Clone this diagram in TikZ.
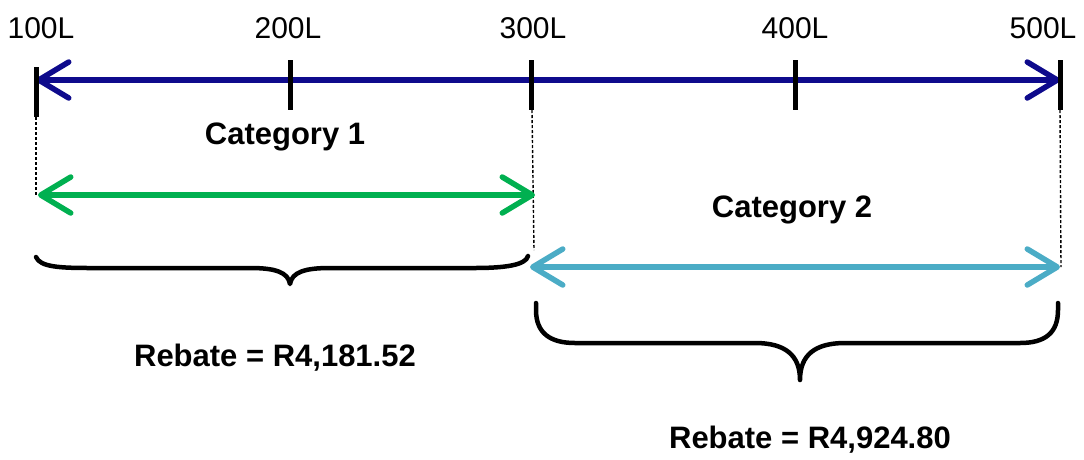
\documentclass[tikz,border=0pt]{standalone}
\usepackage{fontspec}
\setmainfont{Liberation Sans}
\usetikzlibrary{arrows.meta}
\definecolor{navy}{RGB}{14,10,140}
\definecolor{grn}{RGB}{0,176,80}
\definecolor{cyn}{RGB}{75,172,198}
\tikzset{
  barb/.tip={Straight Barb[length=30pt,width=36pt,line cap=round,line join=round]},
  axis/.style={line width=5.5pt,navy,barb-barb},
  rng/.style={line width=5.5pt,barb-barb},
  tick/.style={line width=5pt,black},
  guide/.style={line width=1.4pt,black,dash pattern=on 3pt off 2pt},
  brace/.style={line width=4.5pt,black,line cap=round,line join=round},
  lab/.style={font=\fontsize{30}{34}\selectfont,anchor=base},
  cat/.style={font=\fontsize{31}{36}\selectfont\bfseries},
}
\begin{document}
\begin{tikzpicture}[x=1pt,y=-1pt]
\useasboundingbox (0,0) rectangle (1084,459);
% tick positions
\coordinate (t1) at (36,80);
\coordinate (t2) at (290,80);
\coordinate (t3) at (531,80);
\coordinate (t4) at (795,80);
\coordinate (t5) at (1060,80);
% labels
\node[lab] (l1) at (41,38) {100L};
\node[lab] (l2) at (288,38) {200L};
\node[lab] (l3) at (533,38) {300L};
\node[lab] (l4) at (795,38) {400L};
\node[lab] (l5) at (1043,38) {500L};
% main axis
\draw[axis] (t1) -- (t5);
\draw[tick] (36,67) -- (36,117);
\draw[tick] (290,60) -- (290,110);
\draw[tick] (531,60) -- (531,110);
\draw[tick] (795,60) -- (795,110);
\draw[tick] (1060,60) -- (1060,110);
% guides
\coordinate (g1a) at (36,117);
\coordinate (g1b) at (36,195);
\coordinate (g3a) at (532,110);
\coordinate (g3b) at (534,250);
\coordinate (g5a) at (1060,110);
\coordinate (g5b) at (1061,267);
\draw[guide] (g1a) -- (g1b);
\draw[guide] (g3a) -- (g3b);
\draw[guide] (g5a) -- (g5b);
% ranges
\coordinate (c1a) at (38,195);
\coordinate (c1b) at (535,195);
\coordinate (c2a) at (530,267);
\coordinate (c2b) at (1060,267);
\draw[rng,grn] (c1a) -- (c1b);
\draw[rng,cyn] (c2a) -- (c2b);
\node[cat] (cat1) at (285,137) {Category 1};
\node[cat] (cat2) at (792,210) {Category 2};
% braces
\draw[brace] (36,257) .. controls (40,267) and (60,268) .. (90,268) -- (250,268)
  .. controls (275,268) and (288,272) .. (290,284)
  .. controls (292,272) and (305,268) .. (330,268) -- (475,268)
  .. controls (505,268) and (526,265) .. (528,256);
\draw[brace] (536,303) -- (536,310) .. controls (536,333) and (550,343) .. (575,343) -- (755,343)
  .. controls (785,343) and (800,355) .. (800,380)
  .. controls (800,355) and (815,343) .. (845,343) -- (1020,343)
  .. controls (1045,343) and (1058,333) .. (1058,310) -- (1058,303);
\node[cat] (r1) at (275,358) {Rebate = R4,181.52};
\node[cat] (r2) at (810,440) {Rebate = R4,924.80};
\end{tikzpicture}
\end{document}
